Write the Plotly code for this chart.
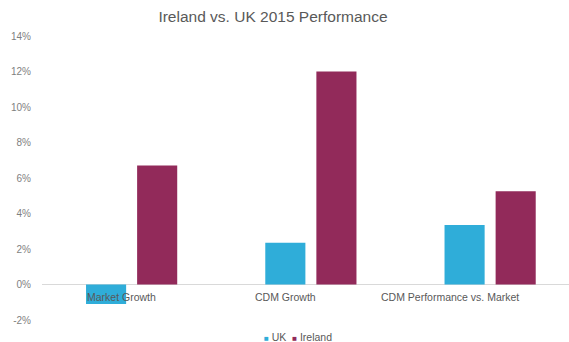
import plotly.graph_objects as go

# Chart data (percent)
categories = ["Market Growth", "CDM Growth", "CDM Performance vs. Market"]
series_names = ["UK", "Ireland"]
uk_values = [-1.1, 2.35, 3.35]
ireland_values = [6.7, 12.0, 5.25]
y_ticks = [-2, 0, 2, 4, 6, 8, 10, 12, 14]
y_tick_labels = [f"{v}%" for v in y_ticks]

W, H = 569, 342
FONT = "Liberation Sans, Arial"
colors = ["#2fadd9", "#922a5a"]
x_idx = list(range(len(categories)))

fig = go.Figure()
for name, vals, col in zip(series_names, [uk_values, ireland_values], colors):
    fig.add_trace(go.Bar(x=x_idx, y=vals, name=name, showlegend=False,
                         marker=dict(color=col, line=dict(width=0))))

# Category labels sit just under the zero line
label_shift = [-10, -25, -40]
for i, cat in enumerate(categories):
    fig.add_annotation(x=i, y=0, xref="x", yref="y", text=cat, showarrow=False,
                       xshift=label_shift[i], yshift=-12, yanchor="middle",
                       font=dict(family=FONT, size=10.5, color="#595959"))

# Compact legend row at the bottom
legend_text = "&nbsp;&nbsp;".join(
    f"<span style='color:{c};font-size:8px'>■</span>&nbsp;{n}"
    for n, c in zip(series_names, colors))
fig.add_annotation(x=276 / W, y=-17 / 284, xref="paper", yref="paper",
                   xanchor="center", yanchor="middle", showarrow=False,
                   text=legend_text,
                   font=dict(family=FONT, size=10.5, color="#595959"))

fig.update_layout(
    width=W, height=H,
    margin=dict(l=42, r=0, t=36, b=22, autoexpand=False),
    paper_bgcolor="white", plot_bgcolor="white",
    barmode="group", bargap=0.43, bargroupgap=0.215,
    title=dict(text="Ireland vs. UK 2015 Performance", x=273 / W, xanchor="center",
               y=1 - 17 / H, yanchor="middle",
               font=dict(family=FONT, size=15.5, color="#595959")),
    showlegend=False,
    xaxis=dict(range=[-0.5, 2.44], showticklabels=False, showgrid=False,
               zeroline=False, showline=False, ticks=""),
    yaxis=dict(range=[-2, 14], tickvals=y_ticks, ticktext=y_tick_labels,
               showgrid=False, zeroline=True, zerolinecolor="#d9d9d9",
               zerolinewidth=1, showline=False, ticks="", ticklabelstandoff=10,
               tickfont=dict(family=FONT, size=10, color="#7f7f7f")),
)

fig.write_html("out.html")
